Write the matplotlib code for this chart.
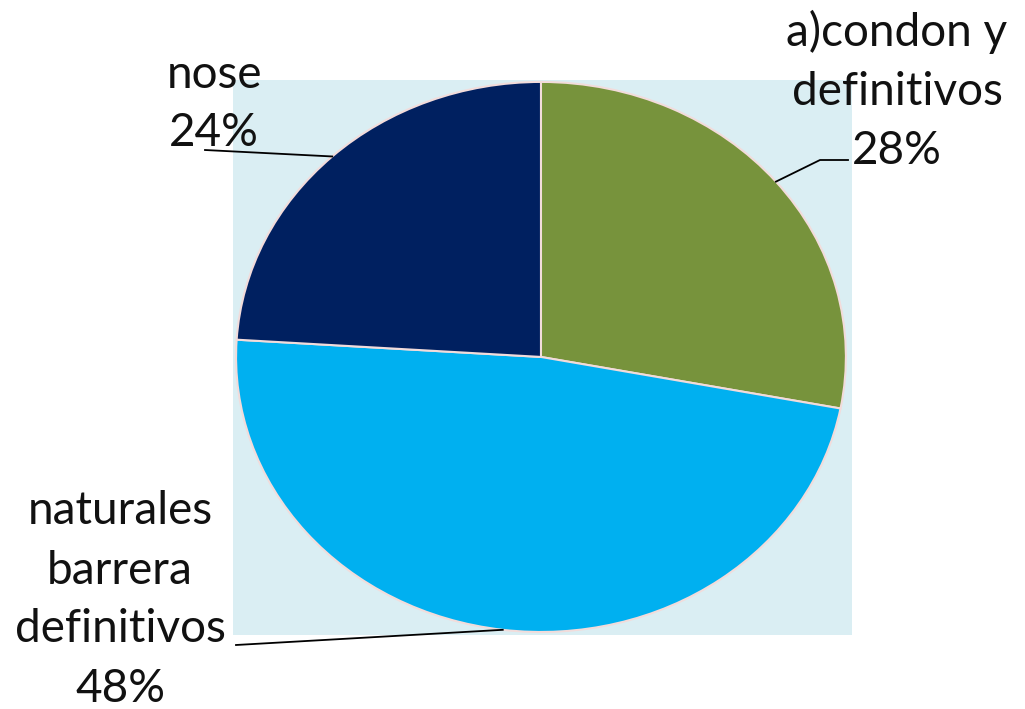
import matplotlib
matplotlib.use("Agg")
import numpy as np
import matplotlib.pyplot as plt
from matplotlib.lines import Line2D

labels = ["a)condon y\ndefinitivos", "naturales\nbarrera\ndefinitivos", "nose"]
values = [28, 48, 24]
colors = ["#77933C", "#00B0F0", "#002060"]

W, H = 1025, 709
fig = plt.figure(figsize=(W / 100, H / 100), dpi=100)
plt.rcParams["font.family"] = ["Lato", "DejaVu Sans"]

# plot area (light blue box)
ax = fig.add_axes([233 / W, 1 - 635 / H, 619 / W, 555 / H])
wedges, _ = ax.pie(values, colors=colors, startangle=90, counterclock=False,
                   wedgeprops=dict(edgecolor="#F2DCDB", linewidth=1.5))
ax.set_aspect("auto")
ax.set_frame_on(True)
ax.set_facecolor("#DAEEF3")
for s in ax.spines.values():
    s.set_visible(False)
ax.set_xticks([])
ax.set_yticks([])
ax.set_xlim(-1.01, 1.02)
ax.set_ylim(-1.011, 1.007)

fig.canvas.draw()


def anchor(w):
    a = np.deg2rad((w.theta1 + w.theta2) / 2)
    px, py = ax.transData.transform((np.cos(a), np.sin(a)))
    return px, py


# label text positions / leader elbows in pixels (y from top)
text_pos = [(897, 91), (120, 600), (214, 104)]
leaders = [[(820, 160), (848, 160)], [(236, 645)], [(205, 150)]]

for w, lab, v, tp, ld in zip(wedges, labels, values, text_pos, leaders):
    ax_x, ax_y = anchor(w)
    xs = [ax_x] + [p[0] for p in ld]
    ys = [ax_y] + [H - p[1] for p in ld]
    fig.add_artist(Line2D(xs, ys, transform=None, color="black", lw=1.3))
    fig.text(tp[0] / W, 1 - tp[1] / H, f"{lab}\n{v}%", ha="center", va="center",
             fontsize=33, color="#111111", linespacing=1.5)

fig.savefig("out.png", dpi=100, facecolor="white")
